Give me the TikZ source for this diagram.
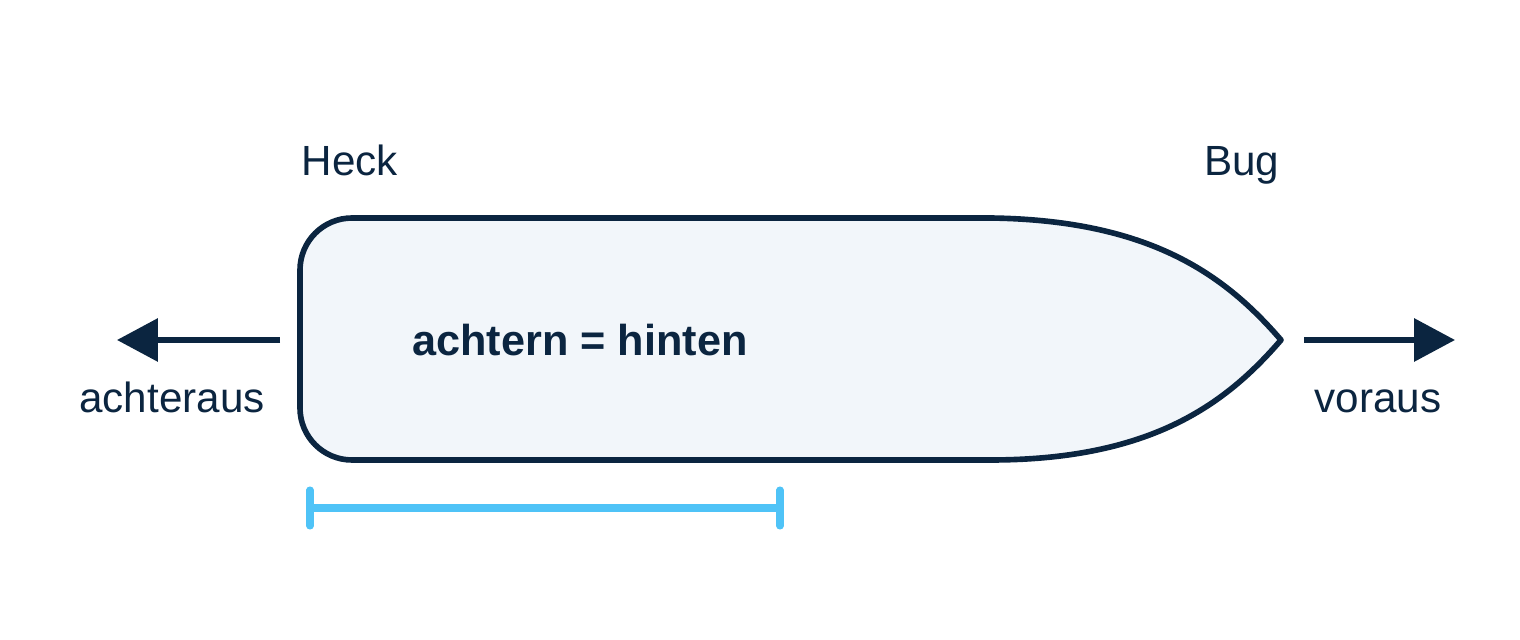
\documentclass[tikz,border=0pt]{standalone}
\usepackage{fontspec}
\setmainfont{Liberation Sans}
\usetikzlibrary{arrows.meta}
\definecolor{navy}{HTML}{0B2540}
\definecolor{hullfill}{HTML}{F2F6FA}
\definecolor{skyblue}{HTML}{4FC3F7}

\begin{document}
\begin{tikzpicture}[x=0.01cm, y=-0.01cm,
        hull/.style = {draw=navy, fill=hullfill, line width=1.6pt, line join=round},
        dirarrow/.style = {draw=navy, line width=1.5pt, -{Triangle[length=11.6pt, width=12pt]}},
        lbl/.style = {text=navy, font=\fontsize{12}{14}\selectfont, inner sep=0pt},
        bar/.style = {draw=skyblue, line width=2pt, line cap=round}]
    \useasboundingbox (0,0) rectangle (1520,640);
    % hull
    \draw[hull] (352,218) -- (990,218)
        .. controls (1150,220) and (1225,275) .. (1281,340)
        .. controls (1225,405) and (1150,460) .. (990,460)
        -- (352,460) arc (90:180:52) -- (300,270) arc (180:270:52) -- cycle;
    % labels
    \node[lbl, anchor=base west] (heck) at (301,176) {Heck};
    \node[lbl, anchor=base east] (bug) at (1280,176) {Bug};
    \node[lbl, anchor=base, font=\fontsize{12.3}{14}\selectfont\bfseries] (achtern) at (580,356) {achtern = hinten};
    \node[lbl, anchor=base] (achteraus) at (172,413) {achteraus};
    \node[lbl, anchor=base] (voraus) at (1378,413) {voraus};
    % arrows
    \coordinate (sternfrom) at (280,340);
    \coordinate (sternto) at (117,340);
    \coordinate (bowfrom) at (1304,340);
    \coordinate (bowto) at (1455,340);
    \draw[dirarrow] (sternfrom) -- (sternto);
    \draw[dirarrow] (bowfrom) -- (bowto);
    % scale bar
    \coordinate (barl) at (310,508);
    \coordinate (barr) at (780,508);
    \draw[bar] (barl) -- (barr);
    \draw[bar] ([yshift=-0.18cm]barl) -- ([yshift=0.18cm]barl);
    \draw[bar] ([yshift=-0.18cm]barr) -- ([yshift=0.18cm]barr);
\end{tikzpicture}
\end{document}
